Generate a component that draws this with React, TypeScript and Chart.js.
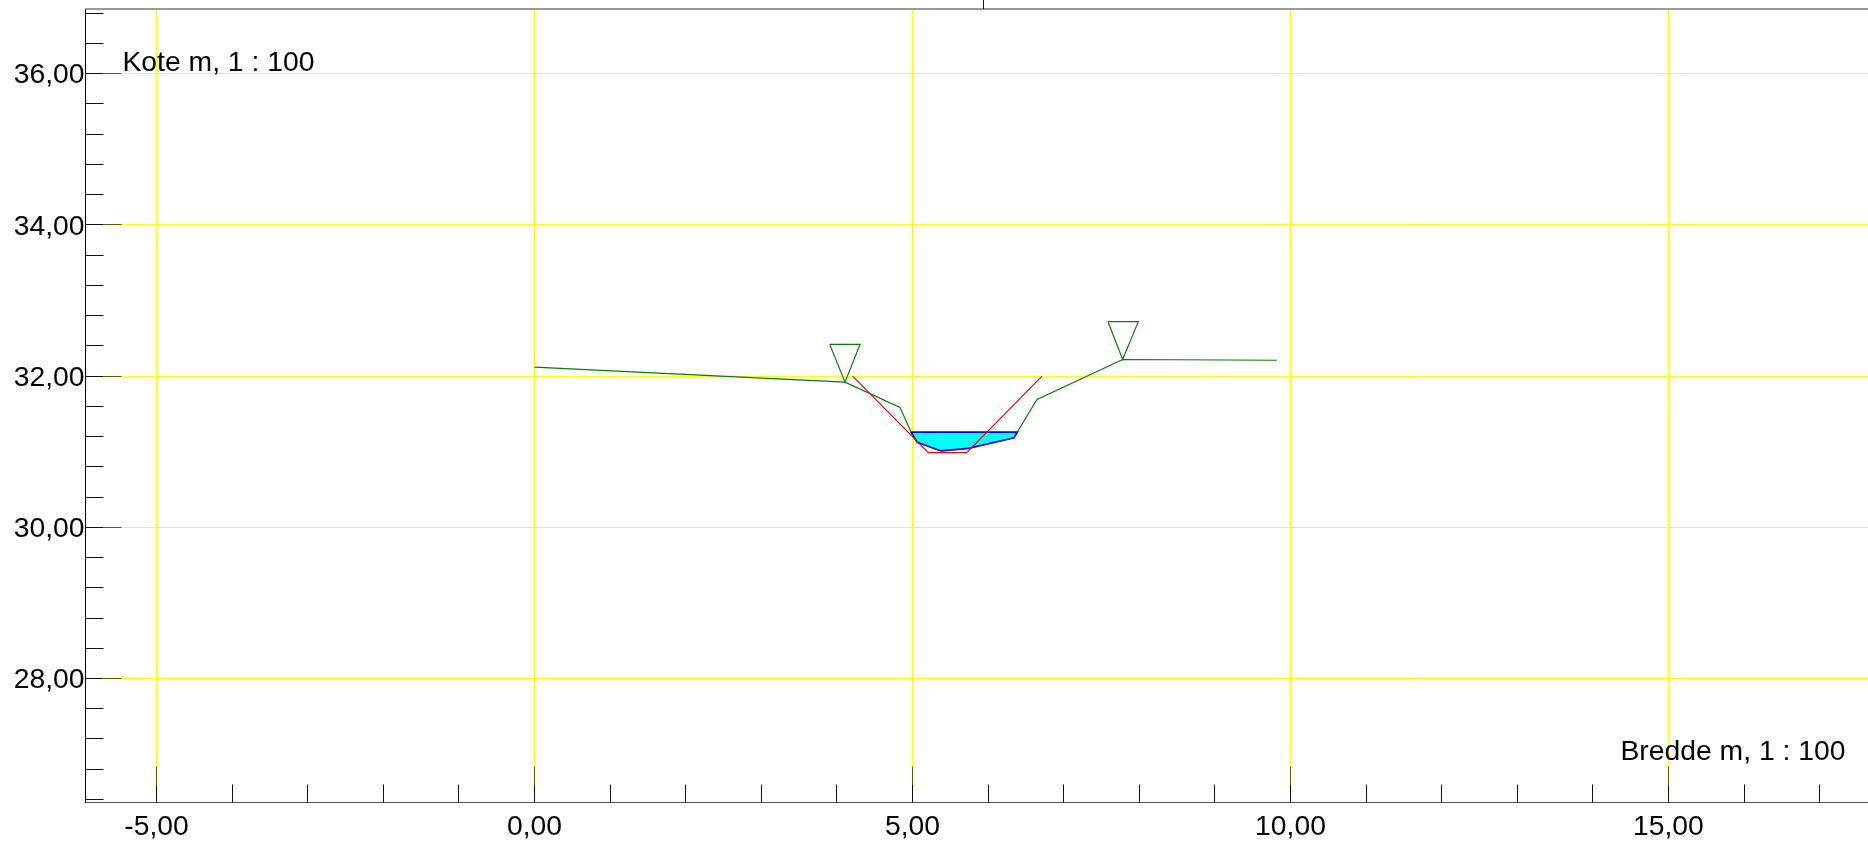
import React, { useEffect, useRef } from "react";
import { Chart, registerables } from "chart.js";

Chart.register(...registerables);

const xMajorTicks = [-5, 0, 5, 10, 15];
const xMinorTicks = [-4, -3, -2, -1, 1, 2, 3, 4, 6, 7, 8, 9, 11, 12, 13, 14, 16, 17];
const yMajorTicks = [28, 30, 32, 34, 36];
const yMinorTicks = [
  26.4, 26.8, 27.2, 27.6, 28.4, 28.8, 29.2, 29.6, 30.4, 30.8, 31.2, 31.6,
  32.4, 32.8, 33.2, 33.6, 34.4, 34.8, 35.2, 35.6, 36.4, 36.8,
];
const topTickValue = 5.94;

const groundX = [0, 4.107, 4.835, 4.98, 5.064, 5.377, 5.738, 6.343, 6.387, 6.647, 7.78, 9.82];
const groundY = [32.12, 31.92, 31.587, 31.26, 31.124, 31.01, 31.045, 31.185, 31.26, 31.69, 32.22, 32.21];

const designX = [4.209, 5.209, 5.717, 6.713];
const designY = [32.0, 30.987, 30.987, 32.0];

const waterX = [4.98, 5.064, 5.377, 5.738, 6.343, 6.387, 4.98];
const waterY = [31.26, 31.124, 31.01, 31.045, 31.185, 31.26, 31.26];

const leftMarkerX = [3.905, 4.306, 4.107, 3.905];
const leftMarkerY = [32.42, 32.42, 31.92, 32.42];
const rightMarkerX = [7.586, 7.987, 7.78, 7.586];
const rightMarkerY = [32.72, 32.72, 32.22, 32.72];

const yTitle = "Kote m, 1 : 100";
const xTitle = "Bredde m, 1 : 100";

const FONT = '"Liberation Sans", Arial, sans-serif';
const FONT_SIZE = 28.3;
const zip = (xs: number[], ys: number[]) => xs.map((x, i) => ({ x, y: ys[i] }));
const fmt = (v: number | string) => Number(v).toFixed(2).replace(".", ",");

const axisPlugin = {
  id: "sectionAxes",
  afterDatasetsDraw(chart: any) {
    const { ctx, chartArea, scales } = chart;
    const { left, right, top, bottom } = chartArea;
    const line = (x1: number, y1: number, x2: number, y2: number, color: string, w = 1) => {
      ctx.strokeStyle = color;
      ctx.lineWidth = w;
      ctx.beginPath();
      ctx.moveTo(x1, y1);
      ctx.lineTo(x2, y2);
      ctx.stroke();
    };
    const snap = (p: number) => Math.round(p - 0.5) + 0.5;
    ctx.save();
    const olive = "rgba(40,40,0,0.75)";
    const dark = "#111111";
    xMajorTicks.forEach((v) => {
      const p = snap(scales.x.getPixelForValue(v));
      line(p, bottom - 36, p, bottom - 18, olive);
      line(p, bottom - 18, p, bottom, dark);
    });
    xMinorTicks.forEach((v) => {
      const p = snap(scales.x.getPixelForValue(v));
      line(p, bottom - 18, p, bottom, dark);
    });
    yMajorTicks.forEach((v) => {
      const p = snap(scales.y.getPixelForValue(v));
      line(left, p, left + 18, p, dark);
      line(left + 18, p, left + 36, p, olive);
    });
    yMinorTicks.forEach((v) => {
      const p = snap(scales.y.getPixelForValue(v));
      line(left, p, left + 18, p, dark);
    });
    line(left, top, right, top, "#777777", 1.5);
    const tp = snap(scales.x.getPixelForValue(topTickValue));
    line(tp, 0, tp, top, dark);

    ctx.fillStyle = "#000000";
    ctx.font = `${FONT_SIZE}px ${FONT}`;
    ctx.textAlign = "left";
    ctx.textBaseline = "alphabetic";
    ctx.fillText(yTitle, left + 37, 70.5);
    ctx.fillText(xTitle, 1620.5, 760);
    ctx.restore();
  },
};

export default function App() {
  const ref = useRef<HTMLCanvasElement | null>(null);
  useEffect(() => {
    if (!ref.current) return;
    const lineDs = (label: string, data: any[], color: string, extra: any = {}) => ({
      label,
      data,
      borderColor: color,
      borderWidth: 1.2,
      pointRadius: 0,
      showLine: true,
      tension: 0,
      fill: false,
      ...extra,
    });
    const chart = new Chart(ref.current, {
      type: "scatter",
      data: {
        datasets: [
          lineDs("Projekt", zip(designX, designY), "#ff0000"),
          lineDs("Vand", zip(waterX, waterY), "#0000ff", {
            fill: "shape",
            backgroundColor: "#00ffff",
            borderWidth: 1.7,
          }),
          lineDs("Terræn", zip(groundX, groundY), "#008000"),
          lineDs("Venstre", zip(leftMarkerX, leftMarkerY), "#008000"),
          lineDs("Højre", zip(rightMarkerX, rightMarkerY), "#008000"),
        ] as any,
      },
      plugins: [axisPlugin as any],
      options: {
        animation: false,
        responsive: false,
        layout: { padding: { top: 9, left: 0, right: 0, bottom: 0 } },
        plugins: { legend: { display: false }, tooltip: { enabled: false }, title: { display: false } },
        scales: {
          x: {
            type: "linear",
            min: -5.94,
            max: 17.64,
            afterBuildTicks: (s: any) => {
              s.ticks = xMajorTicks.map((value) => ({ value }));
            },
            afterFit: (s: any) => {
              s.height = 39.5;
              s.paddingLeft = 0;
              s.paddingRight = 0;
            },
            grid: { color: "#ffff00", lineWidth: 1, drawTicks: false },
            border: { color: "#555555", width: 1 },
            ticks: {
              callback: fmt,
              color: "#000000",
              font: { family: FONT, size: FONT_SIZE },
              padding: 7.5,
              maxRotation: 0,
              autoSkip: false,
            },
          },
          y: {
            type: "linear",
            min: 26.36,
            max: 36.856,
            afterBuildTicks: (s: any) => {
              s.ticks = yMajorTicks.map((value) => ({ value }));
            },
            afterFit: (s: any) => {
              s.width = 85.5;
              s.paddingTop = 0;
              s.paddingBottom = 0;
            },
            grid: { color: "#ffff00", lineWidth: 1, drawTicks: false },
            border: { color: "#000000", width: 1 },
            ticks: {
              callback: fmt,
              color: "#000000",
              font: { family: FONT, size: FONT_SIZE },
              padding: 1,
              labelOffset: 1.8,
              autoSkip: false,
            },
          },
        },
      } as any,
    });
    return () => chart.destroy();
  }, []);
  return (
    <div style={{ position: "fixed", left: 0, top: 0, width: 1868, height: 842, background: "#fff" }}>
      <canvas ref={ref} width={1868} height={842} style={{ display: "block", width: 1868, height: 842 }} />
    </div>
  );
}
